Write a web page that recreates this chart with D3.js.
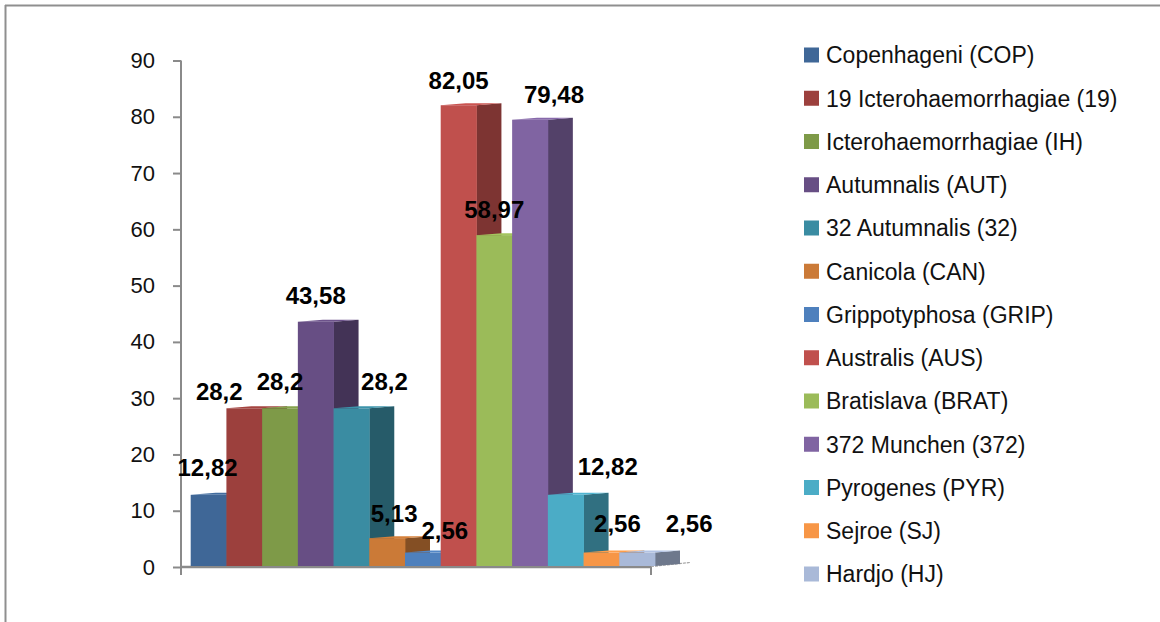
<!DOCTYPE html>
<html><head><meta charset="utf-8">
<script src="https://cdn.jsdelivr.net/npm/d3@7"></script>
<style>html,body{margin:0;padding:0;background:#fff;}svg{display:block;font-family:"Liberation Sans",Arial,sans-serif;}</style>
</head><body>
<svg id="chart" width="1160" height="622"></svg>
<script>
// ---- data ----
const seriesNames = ["Copenhageni (COP)","19 Icterohaemorrhagiae (19)","Icterohaemorrhagiae (IH)","Autumnalis (AUT)","32 Autumnalis (32)","Canicola (CAN)","Grippotyphosa (GRIP)","Australis (AUS)","Bratislava (BRAT)","372 Munchen (372)","Pyrogenes (PYR)","Sejroe (SJ)","Hardjo (HJ)"];
const values = [12.82,28.2,28.2,43.58,28.2,5.13,2.56,82.05,58.97,79.48,12.82,2.56,2.56];
const valueLabels = ["12,82","28,2","28,2","43,58","28,2","5,13","2,56","82,05","58,97","79,48","12,82","2,56","2,56"];
const yTicks = [0,10,20,30,40,50,60,70,80,90];

// ---- styling / layout ----
const colors = ["#3F6797","#9C403D","#7E9A48","#674E84","#3A8CA2","#CB7A37","#4E80BD","#C0504D","#9BBB59","#8064A2","#4BACC6","#F79646","#A9B9D8"];
const labelNudgeX = [-1,-25,0,0,33,7,22,0,0,24,42,16,52];
const labelNudgeY = [-27,-16.5,-27,-26,-27,-25,-22,-25,-25.5,-25,-28,-29,-29];
const depthX = 25, depthY = 2;
const axisGray = "#8a8a8a";

const svg = d3.select("#chart");
svg.append("rect").attr("width",1160).attr("height",622).attr("fill","#fff");
// outer frame (top and left visible)
svg.append("line").attr("x1",5).attr("x2",1160).attr("y1",5.5).attr("y2",5.5).attr("stroke","#8f8f8f").attr("stroke-width",2);
svg.append("line").attr("x1",5.5).attr("x2",5.5).attr("y1",5).attr("y2",622).attr("stroke","#8f8f8f").attr("stroke-width",2);

const y = d3.scaleLinear().domain([0,90]).range([567,60.5]);
const x = d3.scaleBand().domain(seriesNames).range([190.7,655]).padding(0);

// y axis
const yAxis = d3.axisLeft(y).tickValues(yTicks).tickSize(8).tickPadding(18).tickFormat(d3.format("d"));
const gy = svg.append("g").attr("transform","translate(181,0)").call(yAxis);
gy.select(".domain").attr("stroke",axisGray).attr("stroke-width",2).attr("d","M0,"+y(90)+"V"+(y(0)+8));
gy.selectAll(".tick line").attr("stroke",axisGray).attr("stroke-width",2);
gy.selectAll(".tick text").attr("font-size",22).attr("fill","#111").attr("font-family","Liberation Sans, Arial, sans-serif");

// x axis floor line
const xEnd = 651;
svg.append("line").attr("x1",180).attr("x2",xEnd).attr("y1",y(0)).attr("y2",y(0)).attr("stroke",axisGray).attr("stroke-width",2.5);
svg.append("line").attr("x1",xEnd).attr("x2",xEnd).attr("y1",y(0)).attr("y2",y(0)+8).attr("stroke",axisGray).attr("stroke-width",2);
svg.append("line").attr("x1",xEnd).attr("x2",690).attr("y1",y(0)-0.5).attr("y2",y(0)-4.5).attr("stroke","#a0a0a0").attr("stroke-width",1.2).attr("stroke-dasharray","3,1");

// bars (left to right so the next front face hides the previous side)
const bars = svg.append("g");
seriesNames.forEach((name,i)=>{
  const v = values[i];
  const x0 = x(name), x1 = x0 + x.bandwidth();
  const yt = y(v), yb = y(0) - 1;
  const c = d3.color(colors[i]);
  const side = d3.rgb(c.r*0.65, c.g*0.65, c.b*0.65);
  const top = c.brighter(0.15);
  const g = bars.append("g");
  g.append("path").attr("fill",side.formatHex())
    .attr("d",`M${x1},${yt}L${x1+depthX},${yt-depthY}L${x1+depthX},${yb-depthY}L${x1},${yb}Z`);
  g.append("path").attr("fill",top.formatHex())
    .attr("d",`M${x0},${yt}L${x0+depthX},${yt-depthY}L${x1+depthX},${yt-depthY}L${x1},${yt}Z`);
  g.append("rect").attr("x",x0).attr("y",yt).attr("width",x.bandwidth()+0.4).attr("height",yb-yt).attr("fill",c.formatHex());
});

// data labels
svg.append("g").selectAll("text").data(seriesNames).join("text")
  .attr("x",(d,i)=>x(d)+x.bandwidth()/2+labelNudgeX[i])
  .attr("y",(d,i)=>y(values[i])+labelNudgeY[i])
  .attr("dy","0.36em")
  .attr("text-anchor","middle")
  .attr("font-size",24).attr("font-weight","bold").attr("fill","#000")
  .text((d,i)=>valueLabels[i]);

// legend
const legY = d3.scalePoint().domain(seriesNames).range([55,574]);
const leg = svg.append("g").selectAll("g").data(seriesNames).join("g")
  .attr("transform",d=>`translate(804,${legY(d)})`);
leg.append("rect").attr("x",0).attr("y",-7.5).attr("width",15).attr("height",15).attr("fill",(d,i)=>colors[i]);
leg.append("text").attr("x",22).attr("dy","0.36em").attr("font-size",23).attr("fill","#111").text(d=>d);
</script>
</body></html>
